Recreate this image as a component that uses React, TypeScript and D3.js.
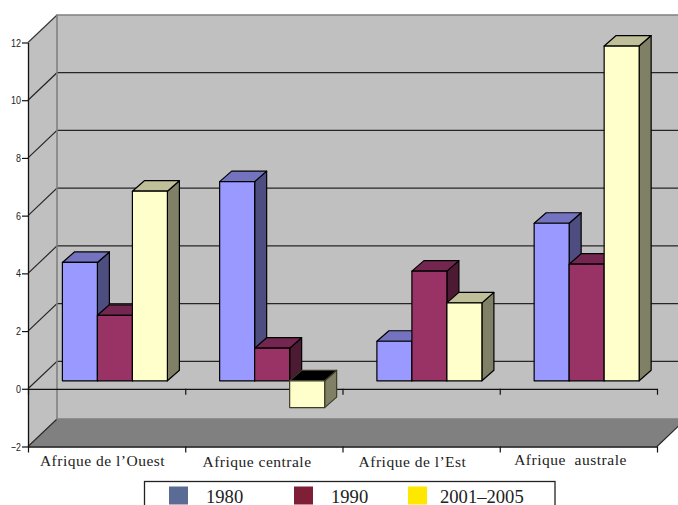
import React, { useEffect, useRef } from "react";
import * as d3 from "d3";

const categories = ["Afrique de l’Ouest", "Afrique centrale", "Afrique de l’Est", "Afrique  australe"];
const seriesNames = ["1980", "1990", "2001–2005"];
const values1980 = [4.1, 6.9, 1.37, 5.46];
const values1990 = [2.27, 1.13, 3.8, 4.04];
const values2001 = [6.57, -0.93, 2.7, 11.6];
const yTicks = [-2, 0, 2, 4, 6, 8, 10, 12];

const barFront = ["#9999ff", "#993366", "#ffffcc"];
const barTop = ["#7373bf", "#732650", "#bfbf99"];
const barSide = ["#4d4d80", "#4d1a33", "#808066"];
const legendColors = ["#5a6b96", "#7f1f37", "#ffe800"];

const width = 678;
const height = 505;
const serif = "'Liberation Serif', serif";

const App: React.FC = () => {
  const svgRef = useRef<SVGSVGElement>(null);

  useEffect(() => {
    if (!svgRef.current) return;
    const svg = d3.select(svgRef.current);
    svg.selectAll("*").remove();

    const x0 = d3.scaleBand().domain(categories).range([28, 657]);
    const y = d3.scaleLinear().domain([-2, 12]).range([446.5, 42.5]);

    // wall depth and bar depth
    const wd = 29;
    const wh = 27.5;
    const bd = 12;
    const bh = 10.5;
    const barShift = 8; // bars sit in front of the back wall
    const barW = 35;
    const yBar = (v: number) => y(v) - barShift;

    const line = d3.line();
    const poly = (pts: [number, number][], fill: string, stroke = "none", sw = 1) =>
      svg
        .append("path")
        .attr("d", line(pts) + "Z")
        .attr("fill", fill)
        .attr("stroke", stroke)
        .attr("stroke-width", sw)
        .attr("stroke-linejoin", "round");

    const left = 28;
    const right = 657;
    const yMax = y(12);
    const yMin = y(-2);

    // walls
    poly([[left, yMax], [left + wd, yMax - wh], [left + wd, yMin - wh], [left, yMin]], "#c0c0c0");
    svg.append("rect").attr("x", left + wd).attr("y", yMax - wh).attr("width", width).attr("height", yMin - yMax).attr("fill", "#c0c0c0");
    poly([[left, yMin], [left + wd, yMin - wh], [right + wd, yMin - wh], [right, yMin]], "#808080");

    // gridlines
    yTicks.slice(1, -1).forEach((t) => {
      svg.append("path").attr("d", line([[left, y(t)], [left + wd, y(t) - wh], [width, y(t) - wh]])).attr("fill", "none").attr("stroke", "#262626").attr("stroke-width", 1.2);
    });
    svg.append("path").attr("d", line([[left, yMax], [left + wd, yMax - wh]])).attr("stroke", "#333333").attr("stroke-width", 1.1);
    svg.append("path").attr("d", line([[left, yMin], [left + wd, yMin - wh]])).attr("stroke", "#262626").attr("stroke-width", 1.1);
    svg.append("path").attr("d", line([[right, yMin], [right + wd, yMin - wh]])).attr("stroke", "#262626").attr("stroke-width", 1.1);

    // wall edges
    svg.append("path").attr("d", line([[width, yMax - wh], [left + wd, yMax - wh], [left + wd, yMin - wh], [width, yMin - wh]])).attr("fill", "none").attr("stroke", "#808080").attr("stroke-width", 1.6);

    // axes
    const axisStyle = (g: d3.Selection<SVGGElement, unknown, null, undefined>) => {
      g.selectAll("path").attr("stroke", "#111").attr("stroke-width", 1.3);
      g.selectAll("line").attr("stroke", "#111").attr("stroke-width", 1.2);
    };

    const yAxis = d3.axisLeft(y).tickValues(yTicks).tickSize(6).tickSizeOuter(0).tickPadding(1).tickFormat(d3.format("d"));
    svg.append("g").attr("transform", `translate(${left},0)`).call(yAxis).call(axisStyle)
      .call((g) =>
        g.selectAll<SVGTextElement, number>("text")
          .attr("font-family", "'Liberation Sans', sans-serif")
          .attr("font-size", 11)
          .attr("fill", "#222")
          // the labels are condensed in the source
          .attr("textLength", (d) => (String(d).length === 1 ? 5 : 10))
          .attr("lengthAdjust", "spacingAndGlyphs")
      );

    const boundaries = d3.range(categories.length + 1).map((i) => left + i * x0.bandwidth());
    const xTickScale = d3.scaleLinear().domain([left, right]).range([left, right]);
    [y(0), yMin].forEach((py) => {
      const xAxis = d3.axisBottom(xTickScale).tickValues(boundaries).tickSize(6).tickSizeOuter(0).tickFormat(() => "");
      svg.append("g").attr("transform", `translate(0,${py})`).call(xAxis).call(axisStyle);
    });

    // bars
    const series = [values1980, values1990, values2001];
    categories.forEach((c, ci) => {
      series.forEach((vals, si) => {
        const v = vals[ci];
        const bx = x0(c)! + 34.4 + si * barW;
        const top = yBar(Math.max(v, 0));
        const bottom = yBar(Math.min(v, 0));
        const neg = v < 0;
        const edge = neg ? "#3d3d29" : "#000";
        poly([[bx + barW, top], [bx + barW + bd, top - bh], [bx + barW + bd, bottom - bh], [bx + barW, bottom]], barSide[si], edge, 1.2);
        poly([[bx, top], [bx + bd, top - bh], [bx + barW + bd, top - bh], [bx + barW, top]], neg ? "#000" : barTop[si], edge, 1.2);
        poly([[bx, top], [bx + barW, top], [bx + barW, bottom], [bx, bottom]], barFront[si], edge, 1.2);
      });
    });

    // category labels
    const labelX = [102.5, 257, 412.5, 570.5];
    const labelY = [466, 467, 467, 465];
    categories.forEach((c, i) => {
      svg.append("text")
        .attr("x", labelX[i])
        .attr("y", labelY[i])
        .attr("text-anchor", "middle")
        .attr("font-family", serif)
        .attr("font-size", 15.5)
        .attr("letter-spacing", 0.5)
        .attr("fill", "#222")
        .attr("xml:space", "preserve")
        .style("white-space", "pre")
        .text(c);
    });

    // legend, cut off by the bottom of the picture
    svg.append("rect").attr("x", 144.5).attr("y", 481.5).attr("width", 410.5).attr("height", 40).attr("fill", "#fff").attr("stroke", "#222").attr("stroke-width", 1.3);
    const swatchX = [169, 294, 408];
    const textX = [206, 331, 440];
    seriesNames.forEach((s, i) => {
      svg.append("rect").attr("x", swatchX[i]).attr("y", 486.5).attr("width", 19).attr("height", 18).attr("fill", legendColors[i]);
      svg.append("text").attr("x", textX[i]).attr("y", 503).attr("font-family", serif).attr("font-size", 18.6).attr("fill", "#222").text(s);
    });
  }, []);

  return <svg ref={svgRef} width={width} height={height} style={{ position: "absolute", left: 0, top: 0, background: "#fff" }} />;
};

export default App;
